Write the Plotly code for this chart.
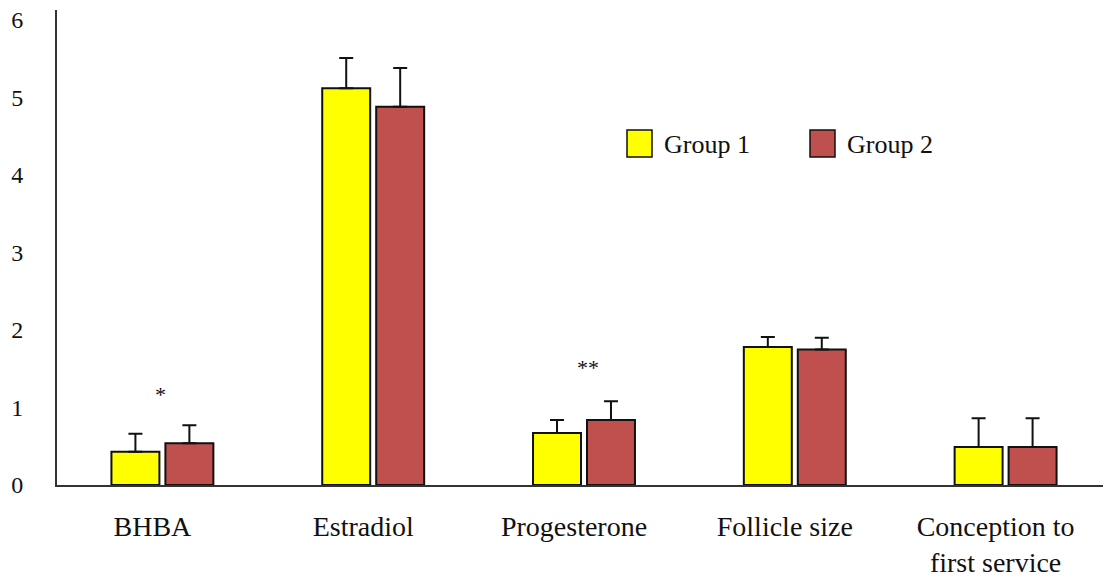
import plotly.graph_objects as go

categories = ["BHBA", "Estradiol", "Progesterone", "Follicle size", "Conception to<br>first service"]
group1 = [0.43, 5.12, 0.67, 1.78, 0.49]
group1_err = [0.23, 0.39, 0.17, 0.13, 0.37]
group2 = [0.54, 4.88, 0.84, 1.75, 0.49]
group2_err = [0.23, 0.50, 0.24, 0.15, 0.37]
y_ticks = [0, 1, 2, 3, 4, 5, 6]
sig_labels = [("BHBA", "*", 1.17, -2), ("Progesterone", "**", 1.52, 4)]

FONT = "Liberation Serif, Times New Roman, DejaVu Serif, serif"
YELLOW = "#FFFF00"
RED = "#C0504D"

fig = go.Figure()
for name, vals, errs, col in [("Group 1", group1, group1_err, YELLOW),
                              ("Group 2", group2, group2_err, RED)]:
    fig.add_trace(go.Bar(
        x=categories, y=vals, name=name,
        marker=dict(color=col, line=dict(color="#111111", width=2)),
        error_y=dict(type="data", symmetric=False, array=errs,
                     arrayminus=[0] * len(errs), color="#111111",
                     thickness=2, width=7),
        showlegend=False,
    ))

for cat, txt, yv, xs in sig_labels:
    fig.add_annotation(x=cat, y=yv, text=txt, showarrow=False, xshift=xs,
                       font=dict(family=FONT, size=22, color="#111111"))

PW, PH = 1054, 475
legend_items = [("Group 1", YELLOW, (627 - 57) / PW), ("Group 2", RED, (810 - 57) / PW)]
for name, col, x0 in legend_items:
    fig.add_shape(type="rect", xref="paper", yref="paper",
                  x0=x0, x1=x0 + 25 / PW, y0=(485 - 157) / PH, y1=(485 - 130) / PH,
                  fillcolor=col, line=dict(color="#111111", width=1.5))
    fig.add_annotation(xref="paper", yref="paper", x=x0 + 35 / PW, y=(485 - 144) / PH,
                       xanchor="left", yanchor="middle", text=name, showarrow=False,
                       font=dict(family=FONT, size=26, color="#111111"))

fig.update_layout(
    width=1103, height=571,
    margin=dict(l=49, r=0, t=2, b=94, autoexpand=False),
    plot_bgcolor="white", paper_bgcolor="white",
    barmode="group", bargap=0.488, bargroupgap=0.111,
    font=dict(family=FONT, size=28, color="#111111"),
    xaxis=dict(showline=True, linecolor="#333333", linewidth=2, ticks="",
               tickfont=dict(family=FONT, size=28), ticklabelstandoff=15,
               ticklabelshift=-10),
    yaxis=dict(range=[0, 6.13], tickvals=y_ticks, showgrid=False, zeroline=False,
               showline=True, linecolor="#333333", linewidth=2, ticks="",
               tickfont=dict(family=FONT, size=24), ticklabelstandoff=27,
               ticklabeloverflow="allow"),
)

fig.write_html("out.html")
